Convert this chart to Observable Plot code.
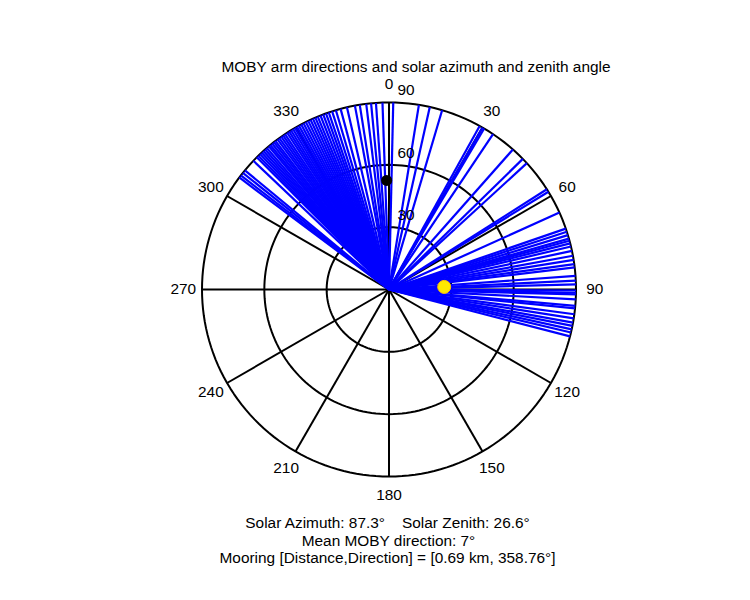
<!DOCTYPE html>
<html>
<head>
<meta charset="utf-8">
<script src="https://cdn.jsdelivr.net/npm/d3@7"></script>
<script src="https://cdn.jsdelivr.net/npm/@observablehq/plot@0.6"></script>
<style>
  html, body { margin: 0; padding: 0; background: #ffffff; }
  #chart { width: 750px; height: 600px; }
</style>
</head>
<body>
<div id="chart"></div>
<script>
// ---- data ----
const titleText = "MOBY arm directions and solar azimuth and zenith angle";
const captionLines = [
  "Solar Azimuth: 87.3°    Solar Zenith: 26.6°",
  "Mean MOBY direction: 7°",
  "Mooring [Distance,Direction] = [0.69 km, 358.76°]"
];
const rMax = 90;
const ringValues = [30, 60, 90];
const ringLabels = ["30", "60", "90"];
const spokeAngles = [0, 30, 60, 90, 120, 150, 180, 210, 240, 270, 300, 330];
const spokeLabels = ["0", "30", "60", "90", "120", "150", "180", "210", "240", "270", "300", "330"];
// MOBY arm directions (degrees, clockwise from north)
const armAngles = [
  306.8, 307.6, 308.6, 309.6, 313.5, 315, 315.7, 316.4, 317.1, 317.8, 318.5, 319.2, 320,
  320.6, 321.3, 322, 322.6, 323.4, 324.1, 324.8, 325.5, 326.2, 327, 327.7, 328.4, 329.1,
  329.8, 330.5, 331.2, 332, 332.8, 333.6, 334.4, 335.2, 336, 336.8, 337.6, 338.5, 339.4,
  340.3, 341.2, 342.3, 343.5, 345, 347, 349.5, 351, 353, 354.5, 356, 358,
  1.3, 9.2, 12.6, 16.5, 29, 30, 30.6, 33.8, 41.5, 45.7, 47.5, 57.6, 58.5, 65.7,
  71.0, 72.0, 73.1, 74.2, 74.9, 75.7, 76.7, 78.1, 79.6, 80.9, 82.2, 83.2,
  85.8, 87.3, 88.4, 90.3, 91.0, 91.5, 93.0, 95.0, 95.8, 97.6, 98.9, 100.2,
  101.2, 102.3, 103.3, 104.5
];
const solarAzimuth = 87.3;
const solarZenith = 26.6;
const mooringDirection = 358.76;
const mooringRadius = 52.5;

// ---- geometry helpers ----
const rad = d => d * Math.PI / 180;
const px = (r, a) => r * Math.sin(rad(a));
const py = (r, a) => r * Math.cos(rad(a));

const W = 750, H = 600, cx = 388.5, cy = 289, Rpx = 187;
const k = Rpx / rMax;
const FS = 15.4;

const ringPts = ringValues.flatMap(r => d3.range(0, 361, 2).map(a => ({r, a})));
const spokes = spokeAngles.map((a, i) => ({a, label: spokeLabels[i]}));
const rings = ringValues.map((r, i) => ({r, label: ringLabels[i]}));

const chart = Plot.plot({
  width: W,
  height: H,
  margin: 0,
  x: {domain: [-cx / k, (W - cx) / k], axis: null},
  y: {domain: [-(H - cy) / k, cy / k], axis: null},
  style: {fontFamily: "'Liberation Sans', Arial, sans-serif", fontSize: FS + "px", background: "#ffffff"},
  marks: [
    Plot.line(ringPts, {x: d => px(d.r, d.a), y: d => py(d.r, d.a), z: "r", stroke: "black", strokeWidth: 2}),
    Plot.link(spokes, {x1: 0, y1: 0, x2: d => px(rMax, d.a), y2: d => py(rMax, d.a), stroke: "black", strokeWidth: 2}),
    Plot.link(armAngles, {x1: 0, y1: 0, x2: a => px(rMax, a), y2: a => py(rMax, a), stroke: "#0000ff", strokeWidth: 2.2}),
    Plot.text(spokes, {x: d => px(rMax * 1.1, d.a), y: d => py(rMax * 1.1, d.a), text: "label", fontSize: FS, fill: "black"}),
    Plot.text(rings, {x: 0, y: "r", text: "label", dx: 17, dy: -12, fontSize: FS, fill: "black"}),
    Plot.dot([mooringDirection], {x: a => px(mooringRadius, a), y: a => py(mooringRadius, a), r: 5.5, fill: "black"}),
    Plot.dot([solarAzimuth], {x: a => px(solarZenith, a), y: a => py(solarZenith, a), r: 6.5, fill: "#ffe800", stroke: "#ffc400", strokeWidth: 1}),
    Plot.text([titleText], {frameAnchor: "top", dx: 40.5, dy: 61, text: d => d, fontSize: FS, fill: "black"}),
    Plot.text([captionLines[0]], {frameAnchor: "top", dx: 12, dy: 517, text: d => d, fontSize: FS, fill: "black"}),
    Plot.text([captionLines[1]], {frameAnchor: "top", dx: 13, dy: 535, text: d => d, fontSize: FS, fill: "black"}),
    Plot.text([captionLines[2]], {frameAnchor: "top", dx: 12, dy: 552, text: d => d, fontSize: FS, fill: "black"})
  ]
});
document.getElementById("chart").appendChild(chart);
</script>
</body>
</html>
